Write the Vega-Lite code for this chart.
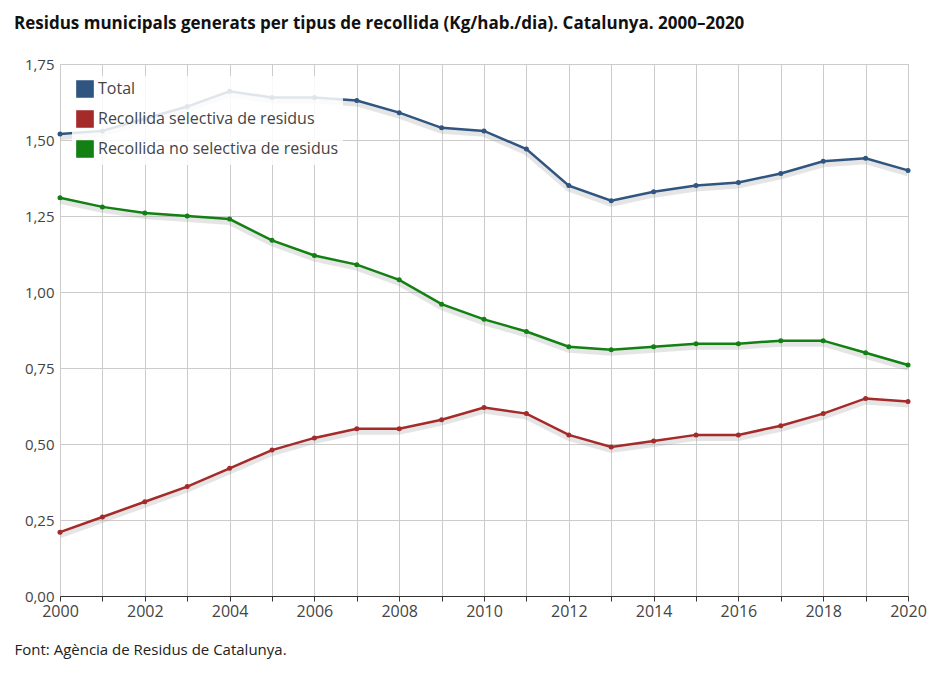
{
  "$schema": "https://vega.github.io/schema/vega-lite/v6.json",
  "autosize": "none",
  "width": 848,
  "height": 532,
  "padding": {"left": 60, "top": 64, "right": 31, "bottom": 77},
  "background": "white",
  "config": {
    "locale": {"number": {"decimal": ",", "thousands": ".", "grouping": [3], "currency": ["", " €"]}},
    "font": "Open Sans",
    "view": {"stroke": "#ccc"}
  },
  "title": {
    "text": "Residus municipals generats per tipus de recollida (Kg/hab./dia). Catalunya. 2000–2020",
    "anchor": "start", "frame": "group", "dx": -46, "offset": 24, "fontSize": 17, "fontWeight": "bold", "color": "#111"
  },
  "data": {"values": [
    {"any": 2000, "s": "Total", "v": 1.52}, {"any": 2001, "s": "Total", "v": 1.53}, {"any": 2002, "s": "Total", "v": 1.57},
    {"any": 2003, "s": "Total", "v": 1.61}, {"any": 2004, "s": "Total", "v": 1.66}, {"any": 2005, "s": "Total", "v": 1.64},
    {"any": 2006, "s": "Total", "v": 1.64}, {"any": 2007, "s": "Total", "v": 1.63}, {"any": 2008, "s": "Total", "v": 1.59},
    {"any": 2009, "s": "Total", "v": 1.54}, {"any": 2010, "s": "Total", "v": 1.53}, {"any": 2011, "s": "Total", "v": 1.47},
    {"any": 2012, "s": "Total", "v": 1.35}, {"any": 2013, "s": "Total", "v": 1.30}, {"any": 2014, "s": "Total", "v": 1.33},
    {"any": 2015, "s": "Total", "v": 1.35}, {"any": 2016, "s": "Total", "v": 1.36}, {"any": 2017, "s": "Total", "v": 1.39},
    {"any": 2018, "s": "Total", "v": 1.43}, {"any": 2019, "s": "Total", "v": 1.44}, {"any": 2020, "s": "Total", "v": 1.40},
    {"any": 2000, "s": "Recollida selectiva de residus", "v": 0.21}, {"any": 2001, "s": "Recollida selectiva de residus", "v": 0.26},
    {"any": 2002, "s": "Recollida selectiva de residus", "v": 0.31}, {"any": 2003, "s": "Recollida selectiva de residus", "v": 0.36},
    {"any": 2004, "s": "Recollida selectiva de residus", "v": 0.42}, {"any": 2005, "s": "Recollida selectiva de residus", "v": 0.48},
    {"any": 2006, "s": "Recollida selectiva de residus", "v": 0.52}, {"any": 2007, "s": "Recollida selectiva de residus", "v": 0.55},
    {"any": 2008, "s": "Recollida selectiva de residus", "v": 0.55}, {"any": 2009, "s": "Recollida selectiva de residus", "v": 0.58},
    {"any": 2010, "s": "Recollida selectiva de residus", "v": 0.62}, {"any": 2011, "s": "Recollida selectiva de residus", "v": 0.60},
    {"any": 2012, "s": "Recollida selectiva de residus", "v": 0.53}, {"any": 2013, "s": "Recollida selectiva de residus", "v": 0.49},
    {"any": 2014, "s": "Recollida selectiva de residus", "v": 0.51}, {"any": 2015, "s": "Recollida selectiva de residus", "v": 0.53},
    {"any": 2016, "s": "Recollida selectiva de residus", "v": 0.53}, {"any": 2017, "s": "Recollida selectiva de residus", "v": 0.56},
    {"any": 2018, "s": "Recollida selectiva de residus", "v": 0.60}, {"any": 2019, "s": "Recollida selectiva de residus", "v": 0.65},
    {"any": 2020, "s": "Recollida selectiva de residus", "v": 0.64},
    {"any": 2000, "s": "Recollida no selectiva de residus", "v": 1.31}, {"any": 2001, "s": "Recollida no selectiva de residus", "v": 1.28},
    {"any": 2002, "s": "Recollida no selectiva de residus", "v": 1.26}, {"any": 2003, "s": "Recollida no selectiva de residus", "v": 1.25},
    {"any": 2004, "s": "Recollida no selectiva de residus", "v": 1.24}, {"any": 2005, "s": "Recollida no selectiva de residus", "v": 1.17},
    {"any": 2006, "s": "Recollida no selectiva de residus", "v": 1.12}, {"any": 2007, "s": "Recollida no selectiva de residus", "v": 1.09},
    {"any": 2008, "s": "Recollida no selectiva de residus", "v": 1.04}, {"any": 2009, "s": "Recollida no selectiva de residus", "v": 0.96},
    {"any": 2010, "s": "Recollida no selectiva de residus", "v": 0.91}, {"any": 2011, "s": "Recollida no selectiva de residus", "v": 0.87},
    {"any": 2012, "s": "Recollida no selectiva de residus", "v": 0.82}, {"any": 2013, "s": "Recollida no selectiva de residus", "v": 0.81},
    {"any": 2014, "s": "Recollida no selectiva de residus", "v": 0.82}, {"any": 2015, "s": "Recollida no selectiva de residus", "v": 0.83},
    {"any": 2016, "s": "Recollida no selectiva de residus", "v": 0.83}, {"any": 2017, "s": "Recollida no selectiva de residus", "v": 0.84},
    {"any": 2018, "s": "Recollida no selectiva de residus", "v": 0.84}, {"any": 2019, "s": "Recollida no selectiva de residus", "v": 0.80},
    {"any": 2020, "s": "Recollida no selectiva de residus", "v": 0.76}
  ]},
  "layer": [
    {
      "mark": {"type": "line", "strokeWidth": 6, "color": "#999", "opacity": 0.25, "yOffset": 3},
      "encoding": {
        "x": {"field": "any", "type": "quantitative"},
        "y": {"field": "v", "type": "quantitative"},
        "detail": {"field": "s"}
      }
    },
    {
      "mark": {"type": "line", "strokeWidth": 2.5, "point": {"filled": true, "size": 25}},
      "encoding": {
        "x": {"field": "any", "type": "quantitative", "scale": {"domain": [2000, 2020], "nice": false},
          "axis": {"format": "d", "values": [2000,2001,2002,2003,2004,2005,2006,2007,2008,2009,2010,2011,2012,2013,2014,2015,2016,2017,2018,2019,2020],
            "labelExpr": "datum.value % 2 == 0 ? datum.label : ''", "labelFontSize": 16, "labelColor": "#444", "labelFlush": false,
            "domainColor": "#333", "tickColor": "#333", "gridColor": "#ccc",
            "title": "Font: Agència de Residus de Catalunya.", "titleAnchor": "start", "titleX": -46, "titleY": 46,
            "titleFontSize": 15, "titleFontWeight": "normal", "titleColor": "#222", "titleAlign": "left"}},
        "y": {"field": "v", "type": "quantitative", "scale": {"domain": [0, 1.75], "nice": false},
          "axis": {"format": ".2f", "values": [0, 0.25, 0.5, 0.75, 1, 1.25, 1.5, 1.75], "title": null,
            "labelFontSize": 15, "labelColor": "#444", "gridColor": "#ccc", "domain": false, "ticks": false, "labelPadding": 6}},
        "color": {"field": "s", "type": "nominal",
          "scale": {"domain": ["Total", "Recollida selectiva de residus", "Recollida no selectiva de residus"],
            "range": ["#2f5580", "#a52a2a", "#128012"]},
          "legend": {"title": null, "orient": "top-left", "offset": 12, "symbolType": "square", "symbolSize": 260,
            "labelFontSize": 16, "labelLimit": 400, "labelColor": "#444", "fillColor": "rgba(255,255,255,0.85)", "rowPadding": 6, "padding": 4}}
      }
    }
  ]
}
